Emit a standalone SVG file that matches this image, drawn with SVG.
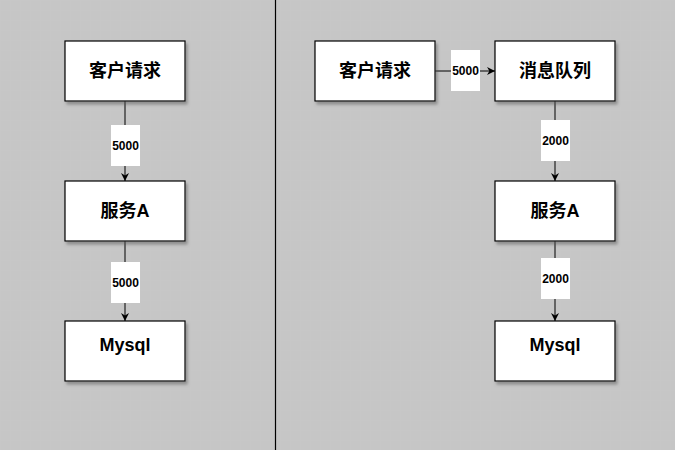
<svg xmlns="http://www.w3.org/2000/svg" width="675" height="450" viewBox="0 0 675 450">
<defs>
<pattern id="grid" width="10" height="10" patternUnits="userSpaceOnUse">
<path d="M10 0H0V10" fill="none" stroke="#cccccc" stroke-width="0.5"/>
</pattern>
<filter id="sh" x="-10%" y="-10%" width="130%" height="140%">
<feDropShadow dx="2" dy="3" stdDeviation="1.5" flood-color="#555" flood-opacity="0.5"/>
</filter>
<marker id="arr" viewBox="0 0 10 10" refX="10" refY="5" markerWidth="8" markerHeight="8" markerUnits="userSpaceOnUse" orient="auto">
<path d="M0 0L10 5L0 10L3 5Z" fill="#000"/>
</marker>
<style>
.box{fill:#fff;stroke:#000;stroke-width:1.2;filter:url(#sh)}
.t{font-family:"Liberation Sans","Noto Sans CJK SC",sans-serif;font-weight:bold;font-size:18px;fill:#000;text-anchor:middle;dominant-baseline:central}
.lb{fill:#fff}
.lt{font-family:"Liberation Sans",sans-serif;font-weight:bold;font-size:12px;fill:#000;text-anchor:middle;dominant-baseline:central}
.c{stroke:#000;stroke-width:1;fill:none;marker-end:url(#arr)}
</style>
</defs>
<rect width="675" height="450" fill="#c6c6c6"/>
<rect width="675" height="450" fill="url(#grid)" opacity="0.6"/>
<line x1="275.5" y1="0" x2="275.5" y2="450" stroke="#000" stroke-width="1.2"/>
<g id="connectors">
<path class="c" d="M125 101V181"/>
<path class="c" d="M125 241V321"/>
<path class="c" d="M435 71H495"/>
<path class="c" d="M555 101V181"/>
<path class="c" d="M555 241V321"/>
<rect class="lb" x="111" y="125" width="29" height="41"/>
<text class="lt" x="125.5" y="145.5">5000</text>
<rect class="lb" x="111" y="262" width="29" height="41"/>
<text class="lt" x="125.5" y="282.5">5000</text>
<rect class="lb" x="451" y="50" width="29" height="41"/>
<text class="lt" x="465.5" y="71">5000</text>
<rect class="lb" x="541" y="120" width="29" height="41"/>
<text class="lt" x="555.5" y="140.5">2000</text>
<rect class="lb" x="541" y="258" width="29" height="41"/>
<text class="lt" x="555.5" y="278.5">2000</text>
</g>
<g id="n1"><rect class="box" x="65" y="41" width="120" height="60"/><text class="t" x="125" y="71">客户请求</text></g>
<g id="n2"><rect class="box" x="65" y="181" width="120" height="60"/><text class="t" x="125" y="211">服务A</text></g>
<g id="n3"><rect class="box" x="65" y="321" width="120" height="60"/><text class="t" x="125" y="345">Mysql</text></g>
<g id="n4"><rect class="box" x="315" y="41" width="120" height="60"/><text class="t" x="375" y="71">客户请求</text></g>
<g id="n5"><rect class="box" x="495" y="41" width="120" height="60"/><text class="t" x="555" y="71">消息队列</text></g>
<g id="n6"><rect class="box" x="495" y="181" width="120" height="60"/><text class="t" x="555" y="211">服务A</text></g>
<g id="n7"><rect class="box" x="495" y="321" width="120" height="60"/><text class="t" x="555" y="345">Mysql</text></g>
</svg>
